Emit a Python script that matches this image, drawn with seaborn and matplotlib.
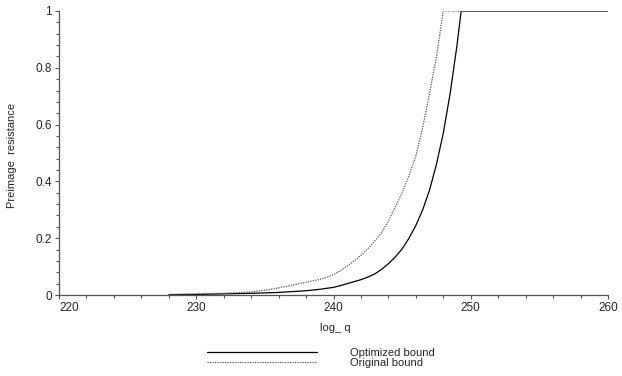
import matplotlib
matplotlib.use("Agg")
import matplotlib.pyplot as plt
import matplotlib.ticker as mticker
from matplotlib.lines import Line2D
import pandas as pd
import seaborn as sns

# Data
x_opt = [228, 230, 232, 234, 236, 238, 239, 240, 240.5, 241, 241.5, 242, 242.5, 243, 243.5,
         244, 244.5, 245, 245.5, 246, 246.5, 247, 247.5, 248, 248.5, 249, 249.3, 260]
y_opt = [0.001, 0.002, 0.004, 0.006, 0.009, 0.015, 0.020, 0.027, 0.033, 0.040, 0.047, 0.054, 0.063, 0.074, 0.090,
         0.110, 0.134, 0.162, 0.200, 0.245, 0.300, 0.370, 0.460, 0.570, 0.710, 0.880, 1.0, 1.0]

x_orig = [228, 230, 232, 233, 234, 235, 236, 237, 238, 239, 239.5, 240, 240.5, 241, 241.5, 242, 242.5,
          243, 243.5, 244, 244.5, 245, 245.5, 246, 246.5, 247, 247.5, 248, 260]
y_orig = [0.002, 0.004, 0.006, 0.008, 0.011, 0.017, 0.025, 0.035, 0.045, 0.055, 0.062, 0.072, 0.085, 0.102, 0.120, 0.140, 0.163,
          0.190, 0.220, 0.260, 0.310, 0.360, 0.420, 0.490, 0.590, 0.710, 0.840, 1.0, 1.0]

series_names = ["Optimized bound", "Original bound"]
x_ticks = [220, 230, 240, 250, 260]
y_ticks = [0, 0.2, 0.4, 0.6, 0.8, 1]
y_tick_labels = ["0", "0.2", "0.4", "0.6", "0.8", "1"]

df = pd.concat([
    pd.DataFrame({"x": x_opt, "y": y_opt, "series": series_names[0]}),
    pd.DataFrame({"x": x_orig, "y": y_orig, "series": series_names[1]}),
])

sns.set_style("white")
plt.rcParams["font.family"] = ["Liberation Sans", "DejaVu Sans"]

fig = plt.figure(figsize=(6.22, 3.76), dpi=100)
ax = fig.add_axes([59/622, 1-295/376, (608-59)/622, (295-11)/376])

sns.lineplot(data=df, x="x", y="y", hue="series", style="series",
             palette={series_names[0]: "black", series_names[1]: "#555555"},
             dashes={series_names[0]: "", series_names[1]: (1, 1)},
             linewidth=0.9, ax=ax, legend=False, sort=False, estimator=None)

ax.set_xlim(220, 260)
ax.set_ylim(0, 1)
for s in ["top", "right"]:
    ax.spines[s].set_visible(False)
for s in ["left", "bottom"]:
    ax.spines[s].set_color("#555555")
    ax.spines[s].set_linewidth(0.9)

ax.set_xticks(x_ticks)
ax.set_yticks(y_ticks)
ax.set_yticklabels(y_tick_labels)
ax.xaxis.set_minor_locator(mticker.MultipleLocator(2))
ax.yaxis.set_minor_locator(mticker.MultipleLocator(0.04))
ax.tick_params(axis="both", which="major", direction="out", length=3, width=0.8,
               color="#555555", labelsize=8.5, pad=2, bottom=True, left=True)
ax.tick_params(axis="both", which="minor", direction="out", length=2, width=0.8,
               color="#555555", bottom=True, left=True)
labels = ax.get_xticklabels()
labels[0].set_horizontalalignment("left")

ax.set_xlabel("log_ q", fontsize=8)
ax.xaxis.set_label_coords((335-59)/549, (295-328)/284)
ax.xaxis.label.set_verticalalignment("center")
ax.set_ylabel("Preimage  resistance", fontsize=8)
ax.yaxis.set_label_coords((12-59)/549, (295-155)/284)
ax.yaxis.label.set_verticalalignment("center")

handles = [Line2D([], [], color="black", lw=0.9),
           Line2D([], [], color="#555555", lw=0.9, dashes=(1, 1))]
fig.legend(handles, series_names, loc="center left", bbox_to_anchor=(207/622, 1-358/376),
           frameon=False, fontsize=8, handlelength=9.9, handletextpad=3.0,
           labelspacing=0.05, borderpad=0, borderaxespad=0)

fig.savefig("out.png", dpi=100)
